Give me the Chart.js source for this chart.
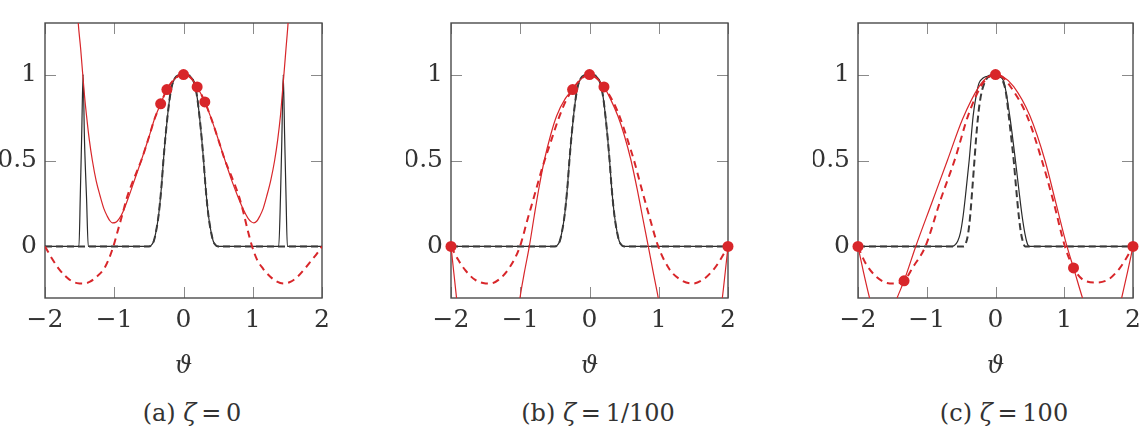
<!DOCTYPE html>
<html><head><meta charset="utf-8">
<script src="https://cdn.jsdelivr.net/npm/chart.js@4.4.1/dist/chart.umd.min.js"></script>
<style>
body{margin:0;background:#fff;width:1143px;height:433px;overflow:hidden;position:relative;font-family:"DejaVu Serif",serif;}
.pane{position:absolute;top:0;}
.cap{position:absolute;top:399px;font-size:24px;color:#333;transform:translateX(-50%);white-space:nowrap;line-height:28px;}
</style></head><body>
<div class="pane" style="left:0px"><canvas id="ca" width="340" height="384"></canvas></div>
<div class="pane" style="left:406px"><canvas id="cb" width="340" height="384"></canvas></div>
<div class="pane" style="left:813px"><canvas id="cc" width="340" height="384"></canvas></div>
<div class="cap" style="left:192px">(a) <i>ζ</i>&thinsp;=&thinsp;0</div>
<div class="cap" style="left:598px">(b) <i>ζ</i>&thinsp;=&thinsp;1/100</div>
<div class="cap" style="left:1004px">(c) <i>ζ</i>&thinsp;=&thinsp;100</div>
<script>
// ---------- tick labels ----------
const X_TICKS = [-2, -1, 0, 1, 2];
const X_LABELS = ['\u22122', '\u22121', '0', '1', '2'];
const Y_TICKS = [0, 0.5, 1];
const Y_LABELS = ['0', '0.5', '1'];

// ---------- shared smooth bump (panels a, b) ----------
const BUMP_X = [-2, -0.5, -0.47, -0.43, -0.4, -0.36, -0.32, -0.29, -0.26, -0.23, -0.2, -0.17, -0.13, -0.08, 0, 0.08, 0.13, 0.17, 0.2, 0.23, 0.26, 0.29, 0.32, 0.36, 0.4, 0.43, 0.47, 0.5, 2];
const BUMP_Y = [0, 0, 0.005, 0.03, 0.08, 0.18, 0.34, 0.5, 0.64, 0.76, 0.86, 0.93, 0.975, 0.995, 1, 0.995, 0.975, 0.93, 0.86, 0.76, 0.64, 0.5, 0.34, 0.18, 0.08, 0.03, 0.005, 0, 0];

// ---------- panel (a) zeta = 0 ----------
const A_BS_X = [-2, -1.51, -1.49, -1.47, -1.45, -1.43, -1.40, -1.375, -0.5, -0.47, -0.43, -0.4, -0.36, -0.32, -0.29, -0.26, -0.23, -0.2, -0.17, -0.13, -0.08, 0, 0.08, 0.13, 0.17, 0.2, 0.23, 0.26, 0.29, 0.32, 0.36, 0.4, 0.43, 0.47, 0.5, 1.375, 1.40, 1.42, 1.44, 1.46, 1.48, 1.50, 2];
const A_BS_Y = [0, 0, 0.3, 0.65, 1.0, 0.62, 0.28, 0, 0, 0.005, 0.03, 0.08, 0.18, 0.34, 0.5, 0.64, 0.76, 0.86, 0.93, 0.975, 0.995, 1, 0.995, 0.975, 0.93, 0.86, 0.76, 0.64, 0.5, 0.34, 0.18, 0.08, 0.03, 0.005, 0, 0, 0.28, 0.62, 1.0, 0.65, 0.3, 0, 0];
const A_RS_X = [-1.57, -1.52, -1.485, -1.455, -1.43, -1.40, -1.36, -1.316, -1.26, -1.205, -1.15, -1.1, -1.06, -1.027, -0.98, -0.93, -0.87, -0.786, -0.7, -0.61, -0.5, -0.42, -0.33, -0.24, -0.12, 0, 0.1, 0.197, 0.308, 0.4, 0.5, 0.6, 0.7, 0.8, 0.87, 0.93, 0.98, 1.016, 1.06, 1.1, 1.15, 1.2, 1.26, 1.316, 1.36, 1.40, 1.425, 1.45, 1.48, 1.51, 1.56];
const A_RS_Y = [1.65, 1.3, 1.15, 1.0, 0.88, 0.76, 0.62, 0.5, 0.38, 0.295, 0.22, 0.175, 0.148, 0.137, 0.14, 0.16, 0.205, 0.295, 0.395, 0.5, 0.635, 0.74, 0.83, 0.913, 0.978, 1.0, 0.983, 0.928, 0.841, 0.745, 0.625, 0.5, 0.38, 0.275, 0.21, 0.165, 0.143, 0.137, 0.148, 0.175, 0.22, 0.29, 0.385, 0.5, 0.62, 0.76, 0.88, 1.0, 1.15, 1.3, 1.65];
const A_RD_X = [-2, -1.9, -1.8, -1.7, -1.6, -1.5, -1.44, -1.35, -1.25, -1.147, -1.08, -1.013, -0.95, -0.88, -0.82, -0.75, -0.68, -0.61, -0.5, -0.42, -0.33, -0.24, -0.12, 0, 0.1, 0.197, 0.308, 0.4, 0.5, 0.6, 0.67, 0.74, 0.81, 0.87, 0.93, 0.991, 1.06, 1.15, 1.25, 1.35, 1.449, 1.55, 1.65, 1.75, 1.85, 1.93, 2];
const A_RD_Y = [0, -0.07, -0.13, -0.175, -0.205, -0.215, -0.216, -0.205, -0.175, -0.13, -0.075, 0, 0.09, 0.19, 0.28, 0.36, 0.43, 0.5, 0.635, 0.74, 0.83, 0.913, 0.978, 1.0, 0.983, 0.928, 0.841, 0.745, 0.625, 0.5, 0.43, 0.36, 0.28, 0.19, 0.09, 0, -0.075, -0.13, -0.175, -0.205, -0.216, -0.205, -0.175, -0.13, -0.08, -0.04, 0];
const A_DOT_X = [-0.33, -0.24, 0, 0.197, 0.308];
const A_DOT_Y = [0.83, 0.913, 1.0, 0.928, 0.841];

// ---------- panel (b) zeta = 1/100 ----------
const B_RS_X = [-2, -1.96, -1.92, -1.85, -1.7, -1.45, -1.2, -1.05, -1.004, -0.94, -0.869, -0.797, -0.73, -0.653, -0.56, -0.475, -0.35, -0.244, -0.12, 0, 0.1, 0.209, 0.3, 0.41, 0.5, 0.6, 0.69, 0.762, 0.849, 0.92, 0.993, 1.1, 1.4, 1.7, 1.83, 1.918, 1.96, 2];
const B_RS_Y = [0, -0.15, -0.3, -0.55, -0.95, -1.2, -0.95, -0.45, -0.3, -0.15, 0, 0.18, 0.34, 0.5, 0.65, 0.759, 0.86, 0.913, 0.975, 1.0, 0.98, 0.928, 0.86, 0.759, 0.65, 0.5, 0.33, 0.18, 0, -0.15, -0.3, -0.55, -1.2, -0.9, -0.55, -0.3, -0.15, 0];
const B_RD_X = [-2, -1.9, -1.8, -1.65, -1.5, -1.437, -1.3, -1.15, -1.004, -0.9, -0.8, -0.68, -0.55, -0.45, -0.35, -0.244, -0.12, 0, 0.1, 0.209, 0.35, 0.45, 0.55, 0.643, 0.75, 0.86, 0.993, 1.15, 1.3, 1.485, 1.65, 1.8, 1.9, 2];
const B_RD_Y = [0, -0.075, -0.135, -0.195, -0.215, -0.216, -0.19, -0.12, 0, 0.15, 0.29, 0.46, 0.62, 0.74, 0.84, 0.913, 0.975, 1.0, 0.98, 0.928, 0.835, 0.74, 0.62, 0.5, 0.34, 0.18, 0, -0.13, -0.19, -0.216, -0.19, -0.13, -0.07, 0];
const B_DOT_X = [-2, -0.244, 0, 0.209, 2];
const B_DOT_Y = [0, 0.913, 1.0, 0.928, 0];

// ---------- panel (c) zeta = 100 ----------
const C_BS_X = [-2, -0.63, -0.6, -0.55, -0.51, -0.47, -0.43, -0.383, -0.325, -0.28, -0.24, -0.18, -0.12, -0.05, 0, 0.05, 0.12, 0.207, 0.25, 0.29, 0.34, 0.386, 0.43, 0.46, 0.49, 2];
const C_BS_Y = [0, 0, 0.005, 0.03, 0.08, 0.18, 0.32, 0.5, 0.76, 0.88, 0.95, 0.98, 0.99, 1.0, 1.0, 0.99, 0.96, 0.76, 0.63, 0.5, 0.33, 0.18, 0.07, 0.02, 0, 0];
const C_BD_X = [-2, -0.46, -0.43, -0.4, -0.37, -0.34, -0.31, -0.28, -0.25, -0.22, -0.18, -0.12, -0.05, 0, 0.05, 0.1, 0.15, 0.193, 0.23, 0.265, 0.3, 0.338, 0.37, 0.4, 0.43, 2];
const C_BD_Y = [0, 0, 0.02, 0.07, 0.17, 0.32, 0.48, 0.64, 0.77, 0.86, 0.93, 0.98, 0.997, 1.0, 0.995, 0.97, 0.9, 0.76, 0.63, 0.5, 0.34, 0.18, 0.08, 0.025, 0, 0];
const C_RS_X = [-2, -1.92, -1.832, -1.75, -1.65, -1.55, -1.45, -1.33, -1.16, -0.93, -0.7, -0.48, -0.24, -0.1, 0, 0.1, 0.265, 0.5, 0.72, 0.88, 1.04, 1.135, 1.29, 1.45, 1.6, 1.75, 1.835, 1.92, 2];
const C_RS_Y = [0, -0.15, -0.3, -0.42, -0.48, -0.45, -0.32, -0.2, 0, 0.25, 0.5, 0.74, 0.93, 0.99, 1.0, 0.99, 0.93, 0.76, 0.5, 0.25, 0, -0.125, -0.33, -0.5, -0.55, -0.45, -0.3, -0.15, 0];
const C_RD_X = [-2, -1.9, -1.75, -1.6, -1.48, -1.33, -1.2, -1.02, -0.8, -0.58, -0.4, -0.2, -0.1, 0, 0.1, 0.2, 0.458, 0.675, 0.85, 1.01, 1.135, 1.3, 1.472, 1.65, 1.8, 1.9, 2];
const C_RD_Y = [0, -0.09, -0.17, -0.21, -0.216, -0.2, -0.12, 0, 0.27, 0.52, 0.76, 0.94, 0.985, 1.0, 0.985, 0.94, 0.76, 0.5, 0.25, 0, -0.125, -0.2, -0.21, -0.19, -0.13, -0.07, 0];
const C_DOT_X = [-2, -1.33, 0, 1.135, 2];
const C_DOT_Y = [0, -0.2, 1.0, -0.125, 0];

// ---------- styling ----------
const RED = '#d8262a';
const BLK = '#2a2a2a';
const BLK_D = '#3a3a3a';
const TXT = '#333333';
const FONT = 'DejaVu Serif';

function pts(xs, ys) { return xs.map((x, i) => ({ x: x, y: ys[i] })); }

const framePlugin = {
  id: 'frame',
  beforeDatasetsDraw(chart) {
    const { ctx, chartArea: a, scales } = chart;
    ctx.save();
    ctx.strokeStyle = '#8a8a8a';
    ctx.lineWidth = 1;
    const L = 11;
    X_TICKS.forEach(v => {
      const px = Math.round(scales.x.getPixelForValue(v)) + 0.5;
      ctx.beginPath();
      ctx.moveTo(px, a.bottom); ctx.lineTo(px, a.bottom - L);
      ctx.moveTo(px, a.top); ctx.lineTo(px, a.top + L);
      ctx.stroke();
    });
    Y_TICKS.forEach(v => {
      const py = Math.round(scales.y.getPixelForValue(v)) + 0.5;
      ctx.beginPath();
      ctx.moveTo(a.left, py); ctx.lineTo(a.left + L, py);
      ctx.moveTo(a.right, py); ctx.lineTo(a.right - L, py);
      ctx.stroke();
    });
    ctx.strokeStyle = '#4a4a4a';
    ctx.lineWidth = 1.4;
    ctx.strokeRect(a.left, a.top, a.right - a.left, a.bottom - a.top);
    ctx.restore();
  }
};

function makeChart(id, d, rightPad) {
  const line = (xs, ys, color, width, dash) => ({
    data: pts(xs, ys), showLine: true, borderColor: color, borderWidth: width,
    borderDash: dash || [], pointRadius: 0, cubicInterpolationMode: 'monotone', fill: false
  });
  new Chart(document.getElementById(id), {
    type: 'scatter',
    data: {
      datasets: [
        { data: pts(d.dotx, d.doty), showLine: false, pointRadius: 5.5, pointBackgroundColor: RED,
          pointBorderWidth: 0, clip: false },
        line(d.rdx, d.rdy, RED, 2, [7, 5]),
        line(d.rsx, d.rsy, RED, 1.2),
        line(d.bdx, d.bdy, BLK_D, 2, [7, 4]),
        line(d.bsx, d.bsy, BLK, 1.2)
      ]
    },
    options: {
      responsive: false, animation: false, events: [],
      layout: { padding: { top: 21, right: rightPad, left: 0, bottom: 0 } },
      elements: { line: { capBezierPoints: false } },
      plugins: { legend: { display: false }, tooltip: { enabled: false } },
      scales: {
        x: {
          type: 'linear', min: -2, max: 2,
          grid: { display: false, drawTicks: false, tickLength: 0 }, border: { display: false },
          afterBuildTicks: s => { s.ticks = X_TICKS.map(v => ({ value: v })); },
          afterFit: s => { s.height = 86; },
          ticks: { autoSkip: false, maxRotation: 0, padding: 7, color: TXT,
            font: { family: FONT, size: 25 }, callback: (v, i) => X_LABELS[i] },
          title: { display: true, text: '\u03D1', color: TXT, padding: { top: 0, bottom: 3 },
            font: { family: FONT, size: 24, style: 'italic' } }
        },
        y: {
          type: 'linear', min: -0.3, max: 1.3,
          grid: { display: false, drawTicks: false, tickLength: 0 }, border: { display: false },
          afterBuildTicks: s => { s.ticks = Y_TICKS.map(v => ({ value: v })); },
          afterFit: s => { s.width = 45; },
          ticks: { autoSkip: false, padding: 8, color: TXT,
            font: { family: FONT, size: 25 }, callback: (v, i) => Y_LABELS[i] }
        }
      }
    },
    plugins: [framePlugin]
  });
}

makeChart('ca', { bsx: A_BS_X, bsy: A_BS_Y, bdx: BUMP_X, bdy: BUMP_Y, rsx: A_RS_X, rsy: A_RS_Y,
  rdx: A_RD_X, rdy: A_RD_Y, dotx: A_DOT_X, doty: A_DOT_Y }, 18);
makeChart('cb', { bsx: BUMP_X, bsy: BUMP_Y, bdx: BUMP_X, bdy: BUMP_Y, rsx: B_RS_X, rsy: B_RS_Y,
  rdx: B_RD_X, rdy: B_RD_Y, dotx: B_DOT_X, doty: B_DOT_Y }, 18);
makeChart('cc', { bsx: C_BS_X, bsy: C_BS_Y, bdx: C_BD_X, bdy: C_BD_Y, rsx: C_RS_X, rsy: C_RS_Y,
  rdx: C_RD_X, rdy: C_RD_Y, dotx: C_DOT_X, doty: C_DOT_Y }, 20);
</script>
</body></html>
